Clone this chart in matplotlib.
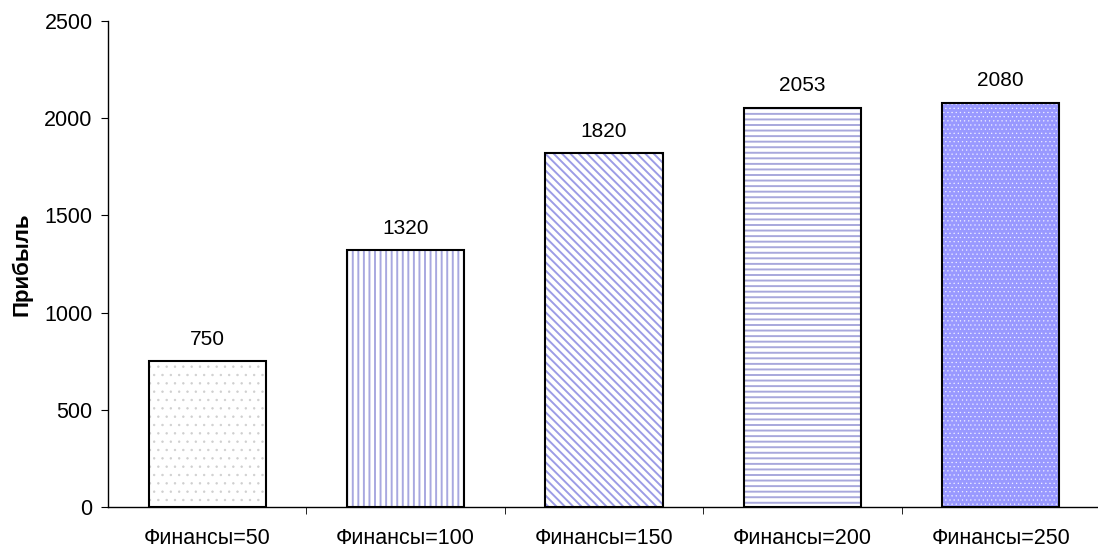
import numpy as np
import matplotlib
matplotlib.use("Agg")
import matplotlib.pyplot as plt

plt.rcParams['font.family'] = ['Liberation Sans', 'DejaVu Sans']

# profit by financing level
categories = ['Финансы=50', 'Финансы=100', 'Финансы=150', 'Финансы=200', 'Финансы=250']
profit = [750, 1320, 1820, 2053, 2080]

# fill style per bar: face colour, hatch colour, hatch pattern, hatch line width
faces = ['white', 'white', 'white', 'white', '#9999ff']
hatch_colors = ['#cfcfcf', '#a8a8e0', '#9c9ce6', '#a8a8dc', '#f0f0ff']
hatches = ['..', '|||', '\\\\\\\\', '---', '....']
hatch_widths = [0.5, 1.4, 1.4, 1.4, 0.4]

fig = plt.figure(figsize=(10.98, 5.56), dpi=100)
ax = fig.add_axes([108 / 1098, 1 - 507 / 556, (1100 - 108) / 1098, (507 - 21) / 556])

x = np.arange(len(categories))
w = 0.59
for i in range(len(categories)):
    with plt.rc_context({'hatch.linewidth': hatch_widths[i]}):
        b = ax.bar(x[i], profit[i], w, color=faces[i], edgecolor=hatch_colors[i],
                   hatch=hatches[i], linewidth=0)
    for p in b:
        if hasattr(p, 'set_hatch_linewidth'):
            p.set_hatch_linewidth(hatch_widths[i])
outline = ax.bar(x, profit, w, fill=False, edgecolor='black', linewidth=1.5)
ax.bar_label(outline, labels=[str(v) for v in profit], padding=9, fontsize=15)

ax.set_xlim(-0.5, len(categories) - 0.5)
ax.set_ylim(0, 2500)
ax.set_yticks(np.arange(0, 2501, 500))
ax.set_xticks(x)
ax.set_xticklabels(categories, fontsize=15.5)
ax.set_xticks(np.arange(0.5, len(categories) - 0.5, 1), minor=True)
ax.tick_params(axis='x', which='major', length=0, pad=15)
ax.tick_params(axis='x', which='minor', length=5, direction='out')
ax.tick_params(axis='y', labelsize=15.5, length=5, direction='out', pad=6)
ax.set_ylabel('Прибыль', fontsize=16, fontweight='bold')
ax.yaxis.set_label_coords(-75 / 992, 0.5)

for s in ['top', 'right']:
    ax.spines[s].set_visible(False)
ax.spines['left'].set_linewidth(1.0)
ax.spines['bottom'].set_linewidth(1.0)

fig.savefig('out.png', dpi=100)
